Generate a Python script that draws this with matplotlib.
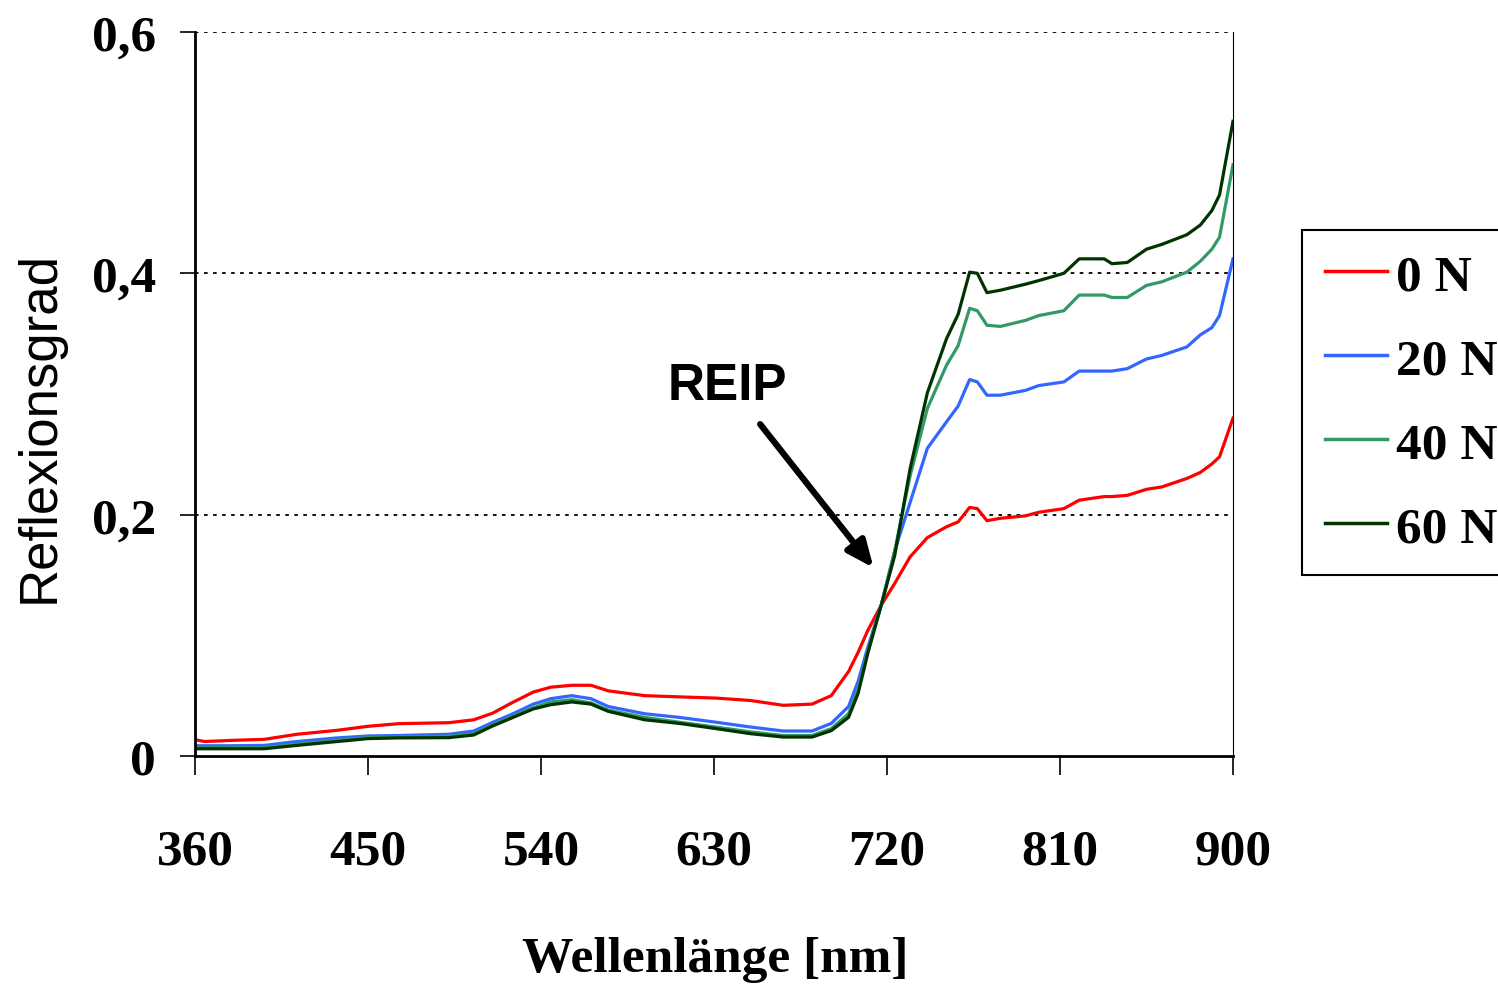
import matplotlib
matplotlib.use("Agg")
import matplotlib.pyplot as plt

# wavelength grid (nm) and reflectance per N level
wavelength = [360, 365, 380, 396, 413, 434, 450, 466, 492, 505, 515, 524, 536, 545,
              556, 566, 575, 594, 612, 631, 649, 666, 681, 691, 700, 705, 710, 717,
              724, 732, 741, 751, 757, 763, 767, 772, 779, 792, 799, 812, 820, 833,
              837, 845, 855, 863, 876, 883, 889, 893, 900]

refl_0N = [0.0135, 0.012, 0.013, 0.0138, 0.018, 0.0213, 0.0246, 0.0268, 0.0276, 0.030,
           0.0356, 0.0434, 0.053, 0.057, 0.0586, 0.0586, 0.054, 0.050, 0.049, 0.048,
           0.046, 0.042, 0.043, 0.050, 0.070, 0.086, 0.104, 0.125, 0.143, 0.165,
           0.181, 0.190, 0.194, 0.206, 0.205, 0.195, 0.197, 0.199, 0.202, 0.205,
           0.212, 0.215, 0.215, 0.216, 0.221, 0.223, 0.230, 0.235, 0.242, 0.248, 0.280]

refl_20N = [0.0085, 0.0085, 0.0085, 0.0088, 0.012, 0.015, 0.0166, 0.017, 0.018, 0.0207,
            0.028, 0.034, 0.043, 0.0475, 0.050, 0.0475, 0.041, 0.035, 0.032, 0.028,
            0.024, 0.0207, 0.0207, 0.027, 0.041, 0.062, 0.090, 0.125, 0.170, 0.210,
            0.255, 0.277, 0.290, 0.312, 0.310, 0.299, 0.299, 0.303, 0.307, 0.310,
            0.319, 0.319, 0.319, 0.321, 0.329, 0.332, 0.339, 0.349, 0.355, 0.365, 0.412]

refl_40N = [0.0068, 0.0068, 0.0068, 0.0068, 0.0097, 0.013, 0.0152, 0.016, 0.0163, 0.0185,
            0.026, 0.032, 0.040, 0.0448, 0.0467, 0.044, 0.038, 0.032, 0.028, 0.024,
            0.020, 0.017, 0.017, 0.0227, 0.035, 0.055, 0.087, 0.125, 0.170, 0.232,
            0.288, 0.324, 0.340, 0.371, 0.369, 0.357, 0.356, 0.361, 0.365, 0.369,
            0.382, 0.382, 0.380, 0.380, 0.390, 0.393, 0.401, 0.410, 0.420, 0.430, 0.490]

refl_60N = [0.006, 0.006, 0.006, 0.006, 0.0088, 0.012, 0.0144, 0.015, 0.0152, 0.0174,
            0.025, 0.031, 0.039, 0.0425, 0.0448, 0.043, 0.037, 0.030, 0.027, 0.0227,
            0.0185, 0.0157, 0.0157, 0.021, 0.032, 0.052, 0.085, 0.125, 0.166, 0.238,
            0.301, 0.346, 0.366, 0.401, 0.400, 0.384, 0.386, 0.391, 0.394, 0.400,
            0.412, 0.412, 0.408, 0.409, 0.420, 0.424, 0.432, 0.440, 0.452, 0.465, 0.526]

labels = ["0 N", "20 N", "40 N", "60 N"]
colors = ["#ff0000", "#3366ff", "#339966", "#003300"]
xticks = [360, 450, 540, 630, 720, 810, 900]
yticks = [0, 0.2, 0.4, 0.6]
yticklabels = ["0", "0,2", "0,4", "0,6"]

serif = ["Liberation Serif", "DejaVu Serif"]

fig = plt.figure(figsize=(14.98, 9.87), dpi=100)
ax = fig.add_axes([195 / 1498, 1 - 757 / 987, (1233 - 195) / 1498, (757 - 33) / 987])

for ys, lab, col in zip([refl_0N, refl_20N, refl_40N, refl_60N], labels, colors):
    ax.plot(wavelength, ys, color=col, lw=2.3, label=lab)

ax.set_xlim(360, 900)
ax.set_ylim(0, 0.6)
ax.set_xticks(xticks)
ax.set_yticks(yticks)
ax.set_yticklabels(yticklabels)
for y in yticks[1:]:
    ax.axhline(y, color="black", lw=1.3, ls=(0, (2, 3)), zorder=0)

ax.spines["top"].set_visible(False)
ax.spines["left"].set_linewidth(2)
ax.spines["bottom"].set_linewidth(2)
ax.spines["right"].set_linewidth(0.8)
ax.tick_params(axis="x", direction="out", length=14, width=1.2, pad=38)
ax.tick_params(axis="y", direction="out", length=11, width=1.2, pad=17)
for t in ax.get_xticklabels() + ax.get_yticklabels():
    t.set_family(serif)
    t.set_fontweight("bold")
    t.set_fontsize(37)

fig.text(715 / 1498, 1 - 960 / 987, "Wellenlänge [nm]", ha="center", va="center",
         family=serif, fontweight="bold", fontsize=37)
fig.text(40 / 1498, 1 - 427 / 987, "Reflexionsgrad", rotation=90, ha="center", va="center",
         family=["Liberation Sans Narrow", "Liberation Sans", "DejaVu Sans"], fontsize=38)

ax.text(637, 0.307, "REIP", ha="center", va="center", family=["Liberation Sans", "DejaVu Sans"],
        fontweight="bold", fontsize=37)
ax.annotate("", xy=(713, 0.156), xytext=(654, 0.275),
            arrowprops=dict(arrowstyle="-|>,head_length=1.6,head_width=0.7", color="black",
                            lw=4.5, shrinkA=0, shrinkB=0))

leg = fig.legend(loc="upper left", bbox_to_anchor=(1302 / 1498, 1 - 231 / 987),
                 borderaxespad=0, fancybox=False, edgecolor="black", framealpha=1,
                 handlelength=1.2, handletextpad=0.18, labelspacing=0.72,
                 borderpad=0.45, prop=dict(family=serif, weight="bold", size=37))
leg.get_frame().set_linewidth(1.5)
for line in leg.get_lines():
    line.set_linewidth(2.5)

fig.savefig("out.png", dpi=100)
